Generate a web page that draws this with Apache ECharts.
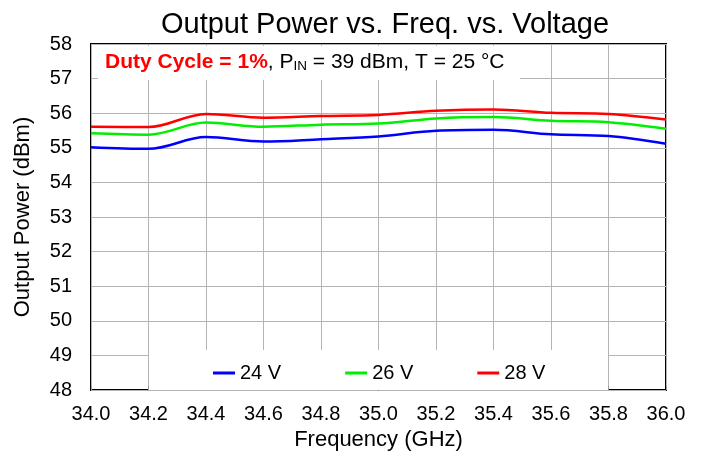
<!DOCTYPE html>
<html>
<head>
<meta charset="utf-8">
<script src="https://cdn.jsdelivr.net/npm/echarts@6/dist/echarts.min.js"></script>
<style>
  html, body { margin: 0; padding: 0; background: #fff; }
  #chart { width: 703px; height: 456px; }
</style>
</head>
<body>
<div id="chart"></div>
<script>
// frequency points (GHz)
const freq = [34.0, 34.2, 34.4, 34.6, 34.8, 35.0, 35.2, 35.4, 35.6, 35.8, 36.0];

// output power (dBm) per supply voltage
const p24 = [55.02, 54.97, 55.31, 55.18, 55.25, 55.33, 55.49, 55.52, 55.39, 55.34, 55.12];
const p26 = [55.42, 55.38, 55.73, 55.61, 55.67, 55.70, 55.85, 55.89, 55.78, 55.74, 55.55];
const p28 = [55.61, 55.60, 55.98, 55.87, 55.92, 55.95, 56.07, 56.11, 56.01, 55.98, 55.82];

const seriesNames = ['24 V', '26 V', '28 V'];
const seriesColors = ['#0000ff', '#00ee00', '#ff0000'];

const chart = echarts.init(document.getElementById('chart'));

const font = 'Liberation Sans, Arial, sans-serif';

function pairs(ys) {
  return freq.map((f, i) => [f, ys[i]]);
}

const options = {
  animation: false,
  textStyle: { fontFamily: font },
  title: {
    text: 'Output Power vs. Freq. vs. Voltage',
    left: 380, top: 5, textAlign: 'center',
    textStyle: { fontSize: 29, fontWeight: 'normal', color: '#000', fontFamily: font }
  },
  grid: {
    left: 91, right: 37, top: 44, bottom: 65,
    show: true, borderColor: '#000', borderWidth: 2, backgroundColor: 'transparent'
  },
  legend: {
    left: 208, top: 358,
    itemWidth: 22, itemHeight: 3, itemGap: 64,
    icon: 'rect',
    textStyle: { fontSize: 20, color: '#000', fontFamily: font },
    data: seriesNames
  },
  xAxis: {
    type: 'value', min: 34.0, max: 36.0, interval: 0.2,
    name: 'Frequency (GHz)', nameLocation: 'middle', nameGap: 38,
    nameTextStyle: { fontSize: 22, color: '#000', fontFamily: font },
    axisLine: { show: false },
    axisTick: { show: true, inside: true, length: 4, lineStyle: { color: '#999' } },
    axisLabel: { fontSize: 20, color: '#000', margin: 14, formatter: v => v.toFixed(1) },
    splitLine: { show: true, lineStyle: { color: '#b4b4b4', width: 1 } }
  },
  yAxis: {
    type: 'value', min: 48, max: 58, interval: 1,
    name: 'Output Power (dBm)', nameLocation: 'middle', nameGap: 57,
    nameTextStyle: { fontSize: 22, color: '#000', fontFamily: font },
    axisLine: { show: false },
    axisTick: { show: false },
    axisLabel: { fontSize: 20, color: '#000', margin: 19 },
    splitLine: { show: true, lineStyle: { color: '#b4b4b4', width: 1 } }
  },
  graphic: [
    // white box behind the conditions text
    { type: 'rect', z: 1, shape: { x: 98, y: 46, width: 422, height: 34 }, style: { fill: '#fff' } },
    // white box behind the legend
    { type: 'rect', z: 1, shape: { x: 149, y: 350, width: 459, height: 40 }, style: { fill: '#fff' } },
    {
      type: 'text', z: 5, left: 105, top: 52,
      style: {
        text: '{r|Duty Cycle = 1%}{k|, P}{s|IN}{k| = 39 dBm, T = 25 °C}',
        rich: {
          r: { fontSize: 21, fontWeight: 'bold', fill: '#ff0000', fontFamily: font, lineHeight: 24, verticalAlign: 'bottom' },
          k: { fontSize: 21, fill: '#000', fontFamily: font, lineHeight: 24, verticalAlign: 'bottom' },
          s: { fontSize: 13.5, fill: '#000', fontFamily: font, lineHeight: 22, verticalAlign: 'bottom' }
        }
      }
    }
  ],
  series: [p24, p26, p28].map((ys, i) => ({
    name: seriesNames[i],
    type: 'line',
    data: pairs(ys),
    smooth: 0.35,
    showSymbol: false,
    color: seriesColors[i],
    lineStyle: { width: 2.5, color: seriesColors[i] },
    z: 2
  }))
};

chart.setOption(options);
</script>
</body>
</html>
